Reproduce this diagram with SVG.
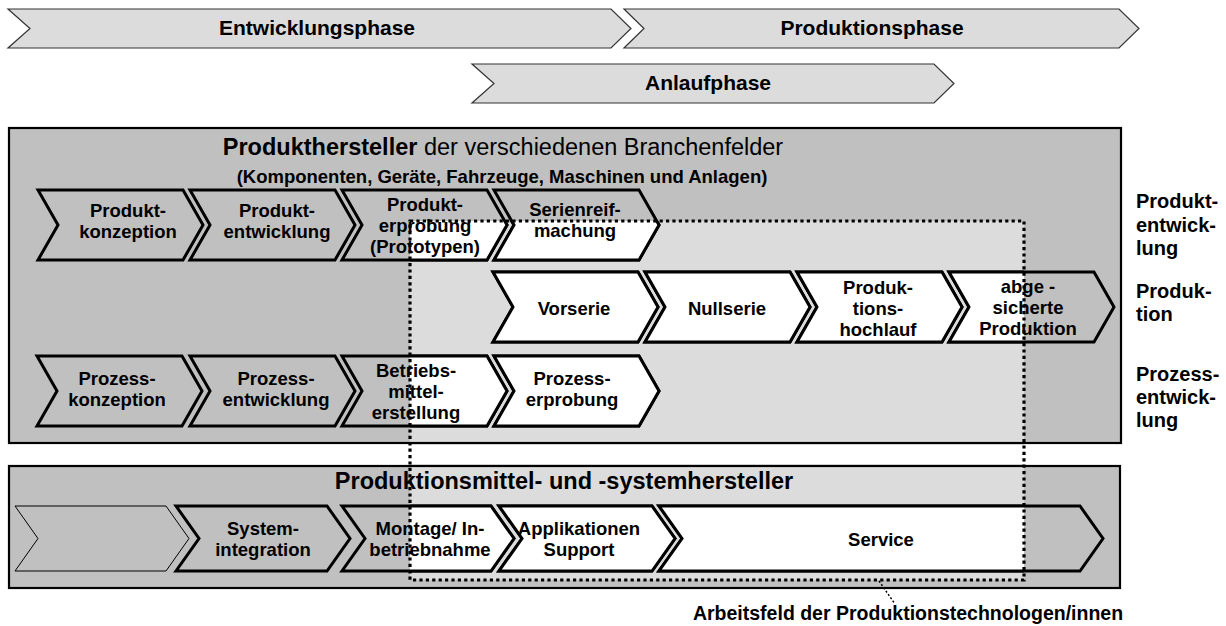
<svg xmlns="http://www.w3.org/2000/svg" xmlns:xlink="http://www.w3.org/1999/xlink" width="1226" height="626" viewBox="0 0 1226 626">
<style>
text{font-family:"Liberation Sans",Arial,Helvetica,sans-serif;fill:#000;}
.b{font-weight:bold;}
.ph{fill:#dcdcdc;stroke:#333;stroke-width:1.2;}
.phl{font-size:21px;font-weight:bold;text-anchor:middle;}
.box{fill:#c0c0c0;stroke:#000;stroke-width:2.2;}
.boxl{fill:#dcdcdc;stroke:#000;stroke-width:2.2;}
.ch{fill:#c0c0c0;stroke:#000;stroke-width:3;stroke-linejoin:miter;}
.chw{fill:#fff;stroke:#000;stroke-width:3;stroke-linejoin:miter;}
.thin{fill:#c0c0c0;stroke:#000;stroke-width:1;}
.lbl{font-size:18.5px;font-weight:bold;text-anchor:middle;}
.side{font-size:20px;font-weight:bold;}
.dot{fill:none;stroke:#000;stroke-width:3.2;stroke-dasharray:3.2 3.2;}
.lead{fill:none;stroke:#000;stroke-width:1.5;stroke-dasharray:2 2;}
</style>
<defs>
<clipPath id="field"><rect x="410" y="221" width="614" height="359"/></clipPath>
<polygon id="s-pk" points="38,190 183,190 203,225 183,260 38,260 58,225"/>
<polygon id="s-pe" points="190,190 335,190 355,225 335,260 190,260 210,225"/>
<polygon id="s-pp" points="342,190 487,190 507,225 487,260 342,260 362,225"/>
<polygon id="s-sr" points="494,190 639,190 659,225 639,260 494,260 514,225"/>
<polygon id="s-vs" points="493,272 638,272 658,307 638,342 493,342 513,307"/>
<polygon id="s-ns" points="645,272 790,272 810,307 790,342 645,342 665,307"/>
<polygon id="s-ph" points="797,272 942,272 962,307 942,342 797,342 817,307"/>
<polygon id="s-ap" points="949,272 1094,272 1114,307 1094,342 949,342 969,307"/>
<polygon id="s-zk" points="37,356 182,356 202,391 182,426 37,426 57,391"/>
<polygon id="s-ze" points="190,356 335,356 355,391 335,426 190,426 210,391"/>
<polygon id="s-bm" points="342,356 487,356 507,391 487,426 342,426 362,391"/>
<polygon id="s-zp" points="494,356 639,356 659,391 639,426 494,426 514,391"/>
<polygon id="s-r0" points="15,506 166,506 189,538.5 166,571 15,571 38,538.5"/>
<polygon id="s-si" points="176,506 327,506 350,538.5 327,571 176,571 199,538.5"/>
<polygon id="s-mi" points="342,506 491,506 514,538.5 491,571 342,571 365,538.5"/>
<polygon id="s-as" points="499,506 652,506 675,538.5 652,571 499,571 522,538.5"/>
<polygon id="s-sv" points="659,506 1080,506 1103,538.5 1080,571 659,571 682,538.5"/>
</defs>
<rect width="1226" height="626" fill="#fff"/>

<g id="phase-entwicklung">
<polygon class="ph" points="8,9 611,9 631,28.5 611,48 8,48 30,28.5"/>
<text class="phl" x="317" y="35">Entwicklungsphase</text>
</g>
<g id="phase-produktion">
<polygon class="ph" points="624,9 1119,9 1139,28.5 1119,48 624,48 644,28.5"/>
<text class="phl" x="872" y="35">Produktionsphase</text>
</g>
<g id="phase-anlauf">
<polygon class="ph" points="472,64 934,64 954,83.5 934,103 472,103 494,83.5"/>
<text class="phl" x="708" y="90">Anlaufphase</text>
</g>

<g id="produkthersteller">
<rect class="box" x="9" y="128" width="1112" height="315"/>
<rect class="boxl" x="9" y="128" width="1112" height="315" clip-path="url(#field)"/>
<text x="503" y="155" font-size="23.5" text-anchor="middle"><tspan class="b">Produkthersteller</tspan> der verschiedenen Branchenfelder</text>
<text class="b" x="502" y="183" font-size="18.5" text-anchor="middle">(Komponenten, Geräte, Fahrzeuge, Maschinen und Anlagen)</text>
</g>

<g id="produktionsmittelhersteller">
<rect class="box" x="9" y="466" width="1111" height="122"/>
<rect class="boxl" x="9" y="466" width="1111" height="122" clip-path="url(#field)"/>
<text class="b" x="564" y="489" font-size="23.5" text-anchor="middle">Produktionsmittel- und -systemhersteller</text>
</g>

<g id="produktkonzeption"><use href="#s-pk" class="ch"/><use href="#s-pk" class="chw" clip-path="url(#field)"/>
<text class="lbl" x="128" y="217">Produkt-<tspan x="128" dy="21">konzeption</tspan></text></g>
<g id="produktentwicklung"><use href="#s-pe" class="ch"/><use href="#s-pe" class="chw" clip-path="url(#field)"/>
<text class="lbl" x="277" y="217">Produkt-<tspan x="277" dy="21">entwicklung</tspan></text></g>
<g id="produkterprobung"><use href="#s-pp" class="ch"/><use href="#s-pp" class="chw" clip-path="url(#field)"/>
<text class="lbl" x="425" y="211">Produkt-<tspan x="425" dy="21">erprobung</tspan><tspan x="425" dy="21">(Prototypen)</tspan></text></g>
<g id="serienreifmachung"><use href="#s-sr" class="ch"/><use href="#s-sr" class="chw" clip-path="url(#field)"/>
<text class="lbl" x="575" y="216">Serienreif-<tspan x="575" dy="21">machung</tspan></text></g>

<g id="vorserie"><use href="#s-vs" class="ch"/><use href="#s-vs" class="chw" clip-path="url(#field)"/>
<text class="lbl" x="574" y="315">Vorserie</text></g>
<g id="nullserie"><use href="#s-ns" class="ch"/><use href="#s-ns" class="chw" clip-path="url(#field)"/>
<text class="lbl" x="727" y="315">Nullserie</text></g>
<g id="produktionshochlauf"><use href="#s-ph" class="ch"/><use href="#s-ph" class="chw" clip-path="url(#field)"/>
<text class="lbl" x="878" y="294">Produk-<tspan x="878" dy="21">tions-</tspan><tspan x="878" dy="21">hochlauf</tspan></text></g>
<g id="abgesicherte-produktion"><use href="#s-ap" class="ch"/><use href="#s-ap" class="chw" clip-path="url(#field)"/>
<text class="lbl" x="1028" y="293">abge -<tspan x="1028" dy="21">sicherte</tspan><tspan x="1028" dy="21">Produktion</tspan></text></g>

<g id="prozesskonzeption"><use href="#s-zk" class="ch"/><use href="#s-zk" class="chw" clip-path="url(#field)"/>
<text class="lbl" x="117" y="385">Prozess-<tspan x="117" dy="21">konzeption</tspan></text></g>
<g id="prozessentwicklung"><use href="#s-ze" class="ch"/><use href="#s-ze" class="chw" clip-path="url(#field)"/>
<text class="lbl" x="276" y="385">Prozess-<tspan x="276" dy="21">entwicklung</tspan></text></g>
<g id="betriebsmittelerstellung"><use href="#s-bm" class="ch"/><use href="#s-bm" class="chw" clip-path="url(#field)"/>
<text class="lbl" x="416" y="377">Betriebs-<tspan x="416" dy="21">mittel-</tspan><tspan x="416" dy="21">erstellung</tspan></text></g>
<g id="prozesserprobung"><use href="#s-zp" class="ch"/><use href="#s-zp" class="chw" clip-path="url(#field)"/>
<text class="lbl" x="572" y="385">Prozess-<tspan x="572" dy="21">erprobung</tspan></text></g>

<g id="vorstufe"><use href="#s-r0" class="thin"/></g>
<g id="systemintegration"><use href="#s-si" class="ch"/><use href="#s-si" class="chw" clip-path="url(#field)"/>
<text class="lbl" x="263" y="535">System-<tspan x="263" dy="21">integration</tspan></text></g>
<g id="montage-inbetriebnahme"><use href="#s-mi" class="ch"/><use href="#s-mi" class="chw" clip-path="url(#field)"/>
<text class="lbl" x="430" y="535">Montage/ In-<tspan x="430" dy="21">betriebnahme</tspan></text></g>
<g id="applikationen-support"><use href="#s-as" class="ch"/><use href="#s-as" class="chw" clip-path="url(#field)"/>
<text class="lbl" x="579" y="535">Applikationen<tspan x="579" dy="21">Support</tspan></text></g>
<g id="service"><use href="#s-sv" class="ch"/><use href="#s-sv" class="chw" clip-path="url(#field)"/>
<text class="lbl" x="881" y="546">Service</text></g>

<g id="seitenbeschriftung">
<text class="side" x="1136" y="208">Produkt-<tspan x="1136" dy="23.5">entwick-</tspan><tspan x="1136" dy="23.5">lung</tspan></text>
<text class="side" x="1136" y="298">Produk-<tspan x="1136" dy="23">tion</tspan></text>
<text class="side" x="1136" y="381">Prozess-<tspan x="1136" dy="23">entwick-</tspan><tspan x="1136" dy="23">lung</tspan></text>
</g>

<g id="arbeitsfeld">
<rect class="dot" x="410" y="221" width="614" height="359"/>
<text class="b" x="908" y="620" font-size="19.5" text-anchor="middle">Arbeitsfeld der Produktionstechnologen/innen</text>
</g>

<g id="connectors">
<path class="lead" d="M879,581 L895,604"/>
</g>
</svg>
